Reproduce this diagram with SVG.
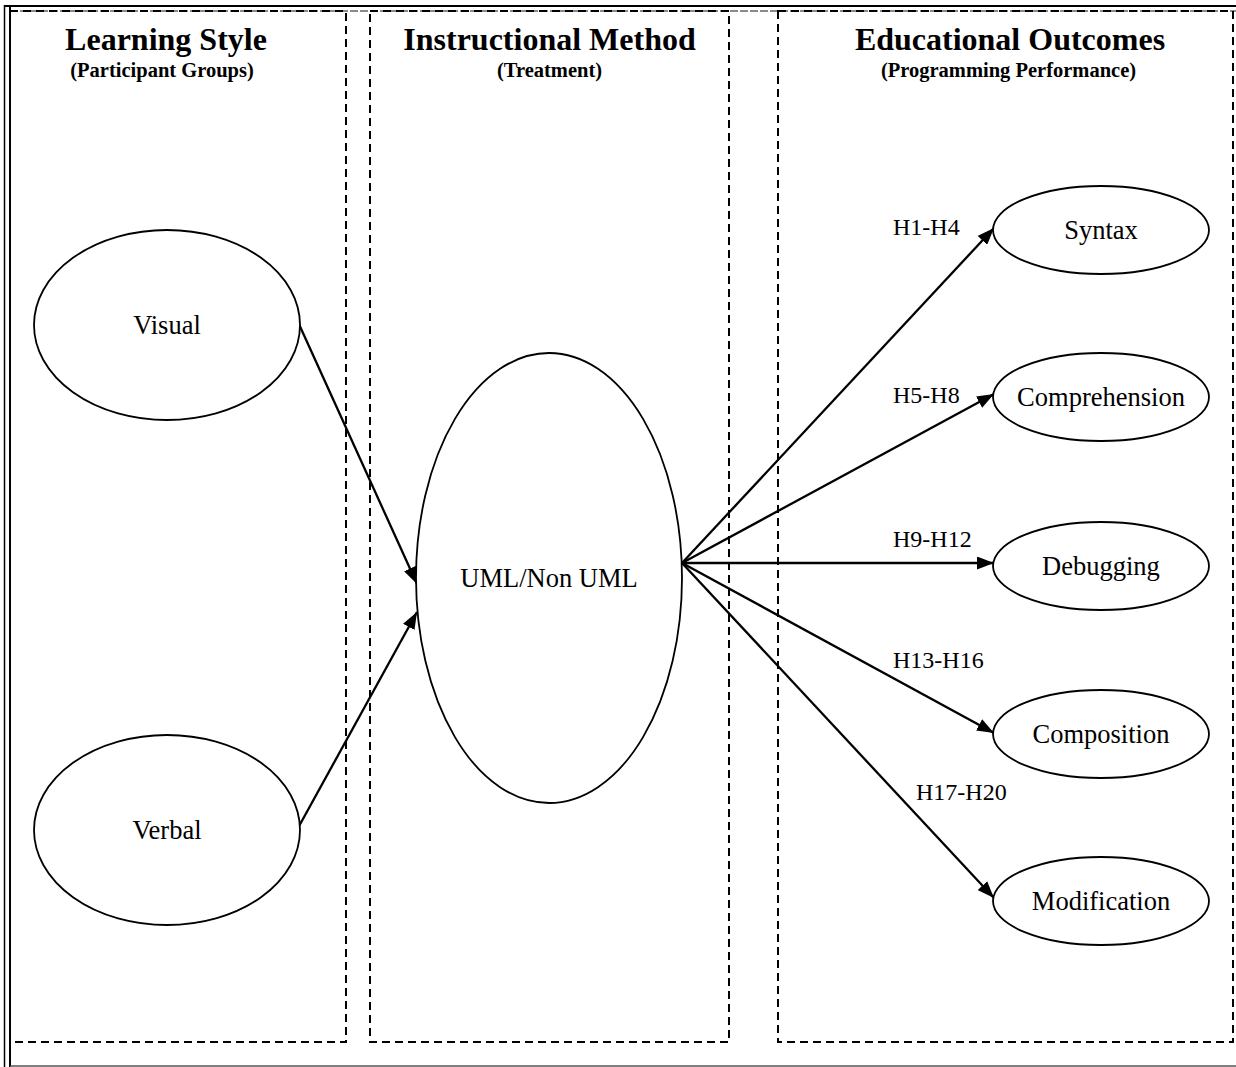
<svg xmlns="http://www.w3.org/2000/svg" width="1236" height="1067" viewBox="0 0 1236 1067">
<style>
.panel{fill:none;stroke:#000;stroke-width:2;stroke-dasharray:8 5}
.node{fill:#fff;stroke:#000;stroke-width:1.8}
.lbl{font-family:"Liberation Serif",serif;font-size:26.5px;fill:#000;text-anchor:middle}
.elbl{font-family:"Liberation Serif",serif;font-size:24px;fill:#000}
.title{font-family:"Liberation Serif",serif;font-size:32px;font-weight:bold;text-anchor:middle}
.sub{font-family:"Liberation Serif",serif;font-size:20.5px;font-weight:bold;text-anchor:middle}
.conn{fill:none;stroke:#000;stroke-width:2.3;marker-end:url(#arr)}
</style>
<defs>
<marker id="arr" viewBox="0 0 17 13" refX="17" refY="6.5" markerWidth="17" markerHeight="13" markerUnits="userSpaceOnUse" orient="auto">
<path d="M0,0 L17,6.5 L0,13 z" fill="#000"/>
</marker>
</defs>
<rect width="1236" height="1067" fill="#fff"/>
<g id="frame">
<line x1="4.5" y1="5" x2="4.5" y2="1067" stroke="#000" stroke-width="1.5"/>
<line x1="10" y1="5" x2="10" y2="1067" stroke="#000" stroke-width="2"/>
<line x1="4" y1="6" x2="1236" y2="6" stroke="#000" stroke-width="2"/>
<line x1="10" y1="11" x2="1236" y2="11" stroke="#666" stroke-width="1.5" stroke-dasharray="8 2"/>
<line x1="10" y1="1066" x2="1236" y2="1066" stroke="#555" stroke-width="1.5"/>
</g>
<g id="panel-learning">
<rect class="panel" x="10" y="11" width="336" height="1031"/>
<text class="title" x="166" y="50">Learning Style</text>
<text class="sub" x="162" y="77">(Participant Groups)</text>
</g>
<g id="panel-method">
<rect class="panel" x="370" y="11" width="359" height="1031"/>
<text class="title" x="549.5" y="50">Instructional Method</text>
<text class="sub" x="549.5" y="77">(Treatment)</text>
</g>
<g id="panel-outcomes">
<rect class="panel" x="778" y="11" width="455" height="1031"/>
<text class="title" x="1010" y="50">Educational Outcomes</text>
<text class="sub" x="1008.5" y="77">(Programming Performance)</text>
</g>
<g id="connectors">
<path class="conn" d="M298,322 L417,584"/>
<path class="conn" d="M298,828 L417,612"/>
<path class="conn" d="M682,563 L994,228"/>
<path class="conn" d="M682,563 L994,394"/>
<path class="conn" d="M682,563 L994,563"/>
<path class="conn" d="M682,563 L994,733"/>
<path class="conn" d="M682,563 L994,898"/>
<text class="elbl" x="893" y="235">H1-H4</text>
<text class="elbl" x="893" y="403">H5-H8</text>
<text class="elbl" x="893" y="547">H9-H12</text>
<text class="elbl" x="893" y="668">H13-H16</text>
<text class="elbl" x="916" y="800">H17-H20</text>
</g>
<g id="node-visual">
<ellipse class="node" cx="167" cy="325" rx="133" ry="95"/>
<text class="lbl" x="167" y="334">Visual</text>
</g>
<g id="node-verbal">
<ellipse class="node" cx="167" cy="830" rx="133" ry="95"/>
<text class="lbl" x="167" y="839">Verbal</text>
</g>
<g id="node-uml">
<ellipse class="node" cx="549" cy="578" rx="133" ry="225"/>
<text class="lbl" x="549" y="587">UML/Non UML</text>
</g>
<g id="node-syntax">
<ellipse class="node" cx="1101" cy="230" rx="108" ry="44"/>
<text class="lbl" x="1101" y="239">Syntax</text>
</g>
<g id="node-comprehension">
<ellipse class="node" cx="1101" cy="397" rx="108" ry="44"/>
<text class="lbl" x="1101" y="406">Comprehension</text>
</g>
<g id="node-debugging">
<ellipse class="node" cx="1101" cy="566" rx="108" ry="44"/>
<text class="lbl" x="1101" y="575">Debugging</text>
</g>
<g id="node-composition">
<ellipse class="node" cx="1101" cy="734" rx="108" ry="44"/>
<text class="lbl" x="1101" y="743">Composition</text>
</g>
<g id="node-modification">
<ellipse class="node" cx="1101" cy="901" rx="108" ry="44"/>
<text class="lbl" x="1101" y="910">Modification</text>
</g>
</svg>
